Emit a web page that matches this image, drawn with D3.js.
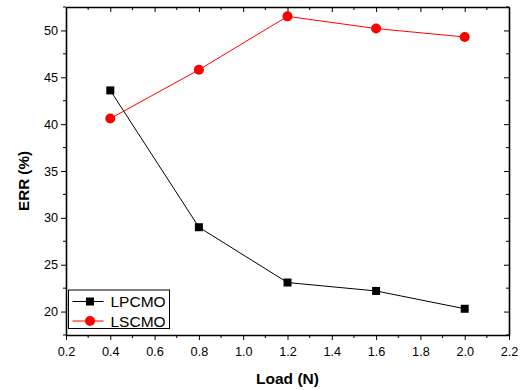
<!DOCTYPE html>
<html>
<head>
<meta charset="utf-8">
<script src="https://cdn.jsdelivr.net/npm/d3@7"></script>
<style>
  body { margin: 0; background: #fff; }
  text { font-family: "Liberation Sans", Arial, sans-serif; }
</style>
</head>
<body>
<div id="chart"></div>
<script>
const loads = [0.4, 0.8, 1.2, 1.6, 2.0];
const lpcmo = [43.6, 29.0, 23.1, 22.2, 20.3];
const lscmo = [40.6, 45.8, 51.5, 50.2, 49.3];
const xTicks = [0.2, 0.4, 0.6, 0.8, 1.0, 1.2, 1.4, 1.6, 1.8, 2.0, 2.2];
const yTicks = [20, 25, 30, 35, 40, 45, 50];

const width = 523, height = 390;
const margin = { top: 7, right: 14, bottom: 55, left: 66 };
const iw = width - margin.left - margin.right;
const ih = height - margin.top - margin.bottom;

const svg = d3.select('#chart').append('svg')
    .attr('width', width)
    .attr('height', height);

const g = svg.append('g').attr('transform', `translate(${margin.left},${margin.top})`);

const x = d3.scaleLinear().domain([0.2, 2.2]).range([0, iw]);
const y = d3.scaleLinear().domain([17.5, 52.5]).range([ih, 0]);

const xMinor = d3.range(0.3, 2.2, 0.2);
const yMinor = d3.range(17.5, 52.6, 5);

// bottom axis, ticks outward
const axBottom = g.append('g').attr('transform', `translate(0,${ih})`)
    .call(d3.axisBottom(x).tickValues(xTicks).tickFormat(d3.format('.1f')).tickSize(5).tickSizeOuter(0));
axBottom.append('g').selectAll('line').data(xMinor).join('line')
    .attr('x1', d => x(d)).attr('x2', d => x(d)).attr('y1', 0).attr('y2', 3)
    .attr('stroke', '#000');

// left axis
const axLeft = g.append('g')
    .call(d3.axisLeft(y).tickValues(yTicks).tickSize(5).tickSizeOuter(0));
axLeft.append('g').selectAll('line').data(yMinor).join('line')
    .attr('y1', d => y(d)).attr('y2', d => y(d)).attr('x1', 0).attr('x2', -3)
    .attr('stroke', '#000');

// top axis, ticks inward
const axTop = g.append('g')
    .call(d3.axisBottom(x).tickValues(xTicks).tickFormat('').tickSize(5).tickSizeOuter(0));
axTop.append('g').selectAll('line').data(xMinor).join('line')
    .attr('x1', d => x(d)).attr('x2', d => x(d)).attr('y1', 0).attr('y2', 3)
    .attr('stroke', '#000');

// right axis, ticks inward
const axRight = g.append('g').attr('transform', `translate(${iw},0)`)
    .call(d3.axisLeft(y).tickValues(yTicks).tickFormat('').tickSize(5).tickSizeOuter(0));
axRight.append('g').selectAll('line').data(yMinor).join('line')
    .attr('y1', d => y(d)).attr('y2', d => y(d)).attr('x1', 0).attr('x2', -3)
    .attr('stroke', '#000');

[axBottom, axLeft, axTop, axRight].forEach(a => {
    a.select('.domain').attr('stroke-width', 1.6);
    a.selectAll('.tick line').attr('stroke-width', 1);
    a.selectAll('.tick text').attr('font-size', 12.7).attr('fill', '#000')
        .attr('font-family', '"Liberation Sans", Arial, sans-serif');
});
axBottom.selectAll('.tick text').attr('dy', '1.05em');

const line = d3.line().x(d => x(d[0])).y(d => y(d[1]));

const blackPts = loads.map((l, i) => [l, lpcmo[i]]);
const redPts = loads.map((l, i) => [l, lscmo[i]]);

g.append('path').datum(blackPts)
    .attr('fill', 'none').attr('stroke', '#000').attr('stroke-width', 1).attr('d', line);
g.append('path').datum(redPts)
    .attr('fill', 'none').attr('stroke', '#ff0000').attr('stroke-width', 1).attr('d', line);

g.selectAll('.sq').data(blackPts).join('rect')
    .attr('x', d => x(d[0]) - 4).attr('y', d => y(d[1]) - 4)
    .attr('width', 8).attr('height', 8).attr('fill', '#000');
g.selectAll('.ci').data(redPts).join('circle')
    .attr('cx', d => x(d[0])).attr('cy', d => y(d[1])).attr('r', 5)
    .attr('fill', '#ff0000');

// legend
const lg = g.append('g').attr('transform', 'translate(2.5,283)');
lg.append('rect').attr('width', 101).attr('height', 38.5)
    .attr('fill', '#fff').attr('stroke', '#000').attr('stroke-width', 1);
const items = [
    { name: 'LPCMO', color: '#000', shape: 'square' },
    { name: 'LSCMO', color: '#ff0000', shape: 'circle' }
];
items.forEach((it, i) => {
    const yy = 11.5 + i * 19.5;
    lg.append('line').attr('x1', 4).attr('x2', 35).attr('y1', yy).attr('y2', yy)
        .attr('stroke', it.color).attr('stroke-width', 1);
    if (it.shape === 'square') {
        lg.append('rect').attr('x', 17.5).attr('y', yy - 4).attr('width', 8).attr('height', 8).attr('fill', it.color);
    } else {
        lg.append('circle').attr('cx', 21.5).attr('cy', yy).attr('r', 5).attr('fill', it.color);
    }
    lg.append('text').attr('x', 42).attr('y', yy + 5.5).attr('font-size', 15.5).text(it.name);
});

// axis titles
svg.append('text')
    .attr('x', margin.left + iw / 2).attr('y', 384)
    .attr('text-anchor', 'middle').attr('font-size', 15.5).attr('font-weight', 'bold')
    .text('Load (N)');
svg.append('text')
    .attr('transform', `translate(29,181) rotate(-90)`)
    .attr('text-anchor', 'middle').attr('font-size', 15.2).attr('font-weight', 'bold')
    .text('ERR (%)');
</script>
</body>
</html>
